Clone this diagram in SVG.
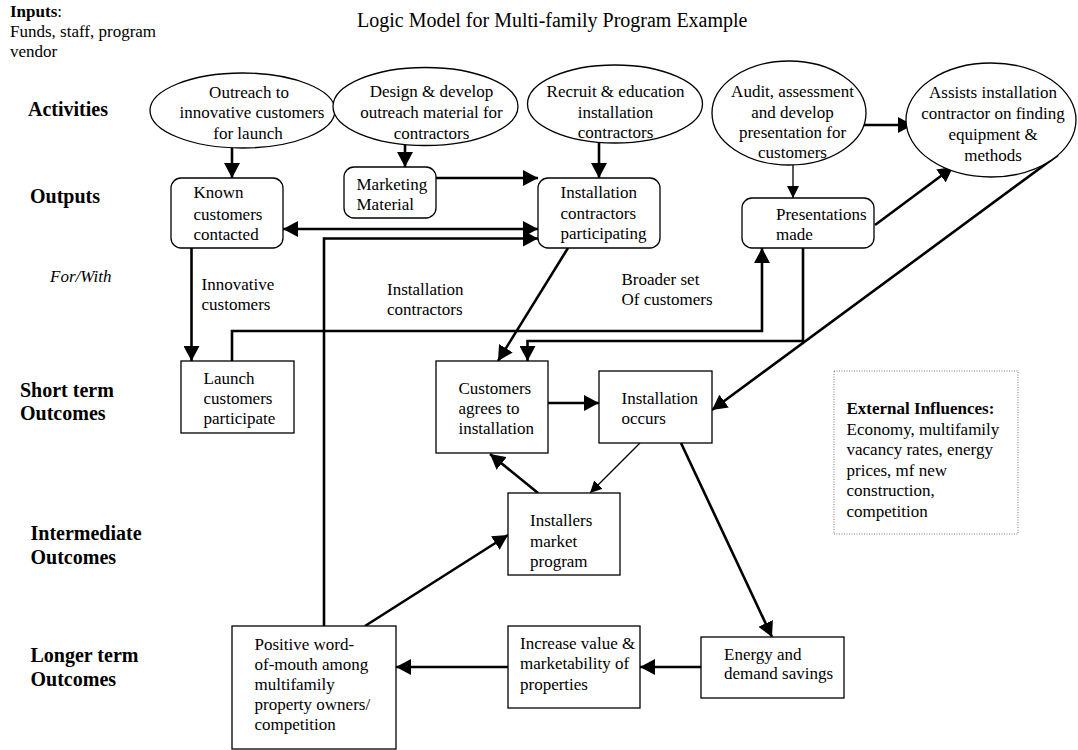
<svg xmlns="http://www.w3.org/2000/svg" width="1078" height="750" viewBox="0 0 1078 750">
<style>
text{font-family:"Liberation Serif","Times New Roman",serif;fill:#000}
.t{font-size:17px}
.c{text-anchor:middle}
.h{font-size:20px;font-weight:bold}
.ttl{font-size:20px}
.n{fill:#fff;stroke:#000;stroke-width:1.3}
.ext{fill:#fff;stroke:#777;stroke-width:1;stroke-dasharray:1 1.5}
.k{fill:none;stroke:#000;stroke-width:2.6;marker-end:url(#ah)}
.s{fill:none;stroke:#000;stroke-width:1.3;marker-end:url(#as)}
</style>
<defs>
<marker id="ah" viewBox="0 0 15 16" refX="15" refY="8" markerWidth="15" markerHeight="16" markerUnits="userSpaceOnUse" orient="auto-start-reverse"><path d="M0,0 L15,8 L0,16 z" fill="#000"/></marker>
<marker id="as" viewBox="0 0 12 12" refX="12" refY="6" markerWidth="12" markerHeight="12" markerUnits="userSpaceOnUse" orient="auto"><path d="M0,0 L12,6 L0,12 z" fill="#000"/></marker>
</defs>
<rect width="1078" height="750" fill="#fff"/>

<g id="labels">
<text class="t" x="10" y="17"><tspan font-weight="bold">Inputs</tspan>:</text>
<text class="t" x="10" y="37">Funds, staff, program</text>
<text class="t" x="10" y="56.5">vendor</text>
<text class="ttl" x="357" y="27">Logic Model for Multi-family Program Example</text>
<text class="h" x="28" y="115.5">Activities</text>
<text class="h" x="30" y="203">Outputs</text>
<text class="t" x="50" y="281.5" font-style="italic">For/With</text>
<text class="h" x="20" y="396.5">Short term</text>
<text class="h" x="20" y="420">Outcomes</text>
<text class="h" x="30.5" y="540">Intermediate</text>
<text class="h" x="30.5" y="563.5">Outcomes</text>
<text class="h" x="30.5" y="661.5">Longer term</text>
<text class="h" x="30.5" y="686">Outcomes</text>
<text class="t" x="201.5" y="290">Innovative</text>
<text class="t" x="201.5" y="310">customers</text>
<text class="t" x="387" y="295">Installation</text>
<text class="t" x="387" y="315">contractors</text>
<text class="t" x="621.5" y="285">Broader set</text>
<text class="t" x="621.5" y="304.5">Of customers</text>
</g>

<g id="connectors">
<line class="k" x1="232" y1="148" x2="232" y2="178"/>
<line class="k" x1="405" y1="145" x2="405" y2="167"/>
<line class="k" x1="599" y1="143" x2="599" y2="178"/>
<line class="s" x1="793" y1="165" x2="793" y2="198"/>
<line class="k" x1="855" y1="125" x2="913" y2="125"/>
<line class="k" x1="436" y1="178" x2="538" y2="178"/>
<line class="k" x1="283" y1="229" x2="538" y2="229" marker-start="url(#ah)"/>
<polyline class="k" points="324,626 324,238.5 538,238.5"/>
<line class="k" x1="191.5" y1="248" x2="191.5" y2="361"/>
<polyline class="k" points="232,361 232,331 762,331 762,248"/>
<polyline class="k" points="803,248 803,341 527.5,341 527.5,361"/>
<line class="k" x1="568" y1="248" x2="498" y2="361"/>
<line class="k" x1="875" y1="225" x2="953" y2="167"/>
<line class="k" x1="1058" y1="155" x2="712" y2="410"/>
<line class="k" x1="548" y1="403" x2="599" y2="403"/>
<line class="s" x1="640" y1="443" x2="590" y2="493"/>
<line class="k" x1="538" y1="493" x2="490" y2="454"/>
<line class="k" x1="681" y1="443" x2="772" y2="637"/>
<line class="k" x1="701" y1="667" x2="640" y2="667"/>
<line class="k" x1="508" y1="667" x2="396" y2="667"/>
<line class="k" x1="365" y1="626" x2="508" y2="535"/>
</g>

<g id="outreach">
<ellipse class="n" cx="242.5" cy="110.5" rx="92.5" ry="37.5"/>
<text class="t c"><tspan x="249" y="97.5">Outreach to</tspan><tspan x="252" y="118">innovative customers</tspan><tspan x="248" y="138.5">for launch</tspan></text>
</g>
<g id="design">
<ellipse class="n" cx="425.5" cy="106.5" rx="92.5" ry="39"/>
<text class="t c"><tspan x="431.5" y="97">Design &amp; develop</tspan><tspan x="431.5" y="118">outreach material for</tspan><tspan x="431.5" y="139">contractors</tspan></text>
</g>
<g id="recruit">
<ellipse class="n" cx="615" cy="104" rx="87.5" ry="39"/>
<text class="t c"><tspan x="615.5" y="97">Recruit &amp; education</tspan><tspan x="615.5" y="117.5">installation</tspan><tspan x="615.5" y="138">contractors</tspan></text>
</g>
<g id="audit">
<ellipse class="n" cx="789" cy="113" rx="77" ry="52"/>
<text class="t c"><tspan x="792.5" y="97">Audit, assessment</tspan><tspan x="792.5" y="117.5">and develop</tspan><tspan x="792.5" y="138">presentation for</tspan><tspan x="792.5" y="157.5">customers</tspan></text>
</g>
<g id="assists">
<ellipse class="n" cx="991" cy="120" rx="85" ry="57"/>
<text class="t c"><tspan x="993" y="98">Assists installation</tspan><tspan x="993" y="119">contractor on finding</tspan><tspan x="993" y="140">equipment &amp;</tspan><tspan x="993" y="160.5">methods</tspan></text>
</g>

<g id="known">
<rect class="n" x="171" y="178" width="112" height="70" rx="10"/>
<text class="t"><tspan x="193.5" y="198">Known</tspan><tspan x="193.5" y="219.5">customers</tspan><tspan x="193.5" y="240">contacted</tspan></text>
</g>
<g id="marketing">
<rect class="n" x="344" y="167" width="92" height="51" rx="10"/>
<text class="t"><tspan x="356.5" y="190">Marketing</tspan><tspan x="356.5" y="210">Material</tspan></text>
</g>
<g id="installers-participating">
<rect class="n" x="538" y="178" width="122" height="70" rx="10"/>
<text class="t"><tspan x="560.5" y="198">Installation</tspan><tspan x="560.5" y="218.5">contractors</tspan><tspan x="560.5" y="239">participating</tspan></text>
</g>
<g id="presentations">
<rect class="n" x="742" y="198" width="132" height="50" rx="10"/>
<text class="t"><tspan x="776" y="220">Presentations</tspan><tspan x="776" y="240">made</tspan></text>
</g>

<g id="launch">
<rect class="n" x="181" y="361" width="113" height="72"/>
<text class="t"><tspan x="203.5" y="383.5">Launch</tspan><tspan x="203.5" y="403.5">customers</tspan><tspan x="203.5" y="423.5">participate</tspan></text>
</g>
<g id="customers-agree">
<rect class="n" x="436" y="361" width="112" height="92"/>
<text class="t"><tspan x="458.5" y="394">Customers</tspan><tspan x="458.5" y="414">agrees to</tspan><tspan x="458.5" y="434">installation</tspan></text>
</g>
<g id="installation-occurs">
<rect class="n" x="599" y="371" width="113" height="72"/>
<text class="t"><tspan x="621.5" y="404">Installation</tspan><tspan x="621.5" y="423.5">occurs</tspan></text>
</g>
<g id="external">
<rect class="ext" x="834" y="371" width="184" height="163"/>
<text class="t"><tspan x="846.5" y="414" font-weight="bold">External Influences:</tspan><tspan x="846.5" y="434.5">Economy, multifamily</tspan><tspan x="846.5" y="455">vacancy rates, energy</tspan><tspan x="846.5" y="475.5">prices, mf new</tspan><tspan x="846.5" y="496">construction,</tspan><tspan x="846.5" y="516.5">competition</tspan></text>
</g>
<g id="installers-market">
<rect class="n" x="508" y="493" width="112" height="82"/>
<text class="t"><tspan x="530" y="526">Installers</tspan><tspan x="530" y="546.5">market</tspan><tspan x="530" y="566.5">program</tspan></text>
</g>
<g id="energy">
<rect class="n" x="701" y="637" width="143" height="61"/>
<text class="t"><tspan x="724" y="659.5">Energy and</tspan><tspan x="724" y="679">demand savings</tspan></text>
</g>
<g id="increase">
<rect class="n" x="508" y="626" width="132" height="82"/>
<text class="t"><tspan x="520" y="649">Increase value &amp;</tspan><tspan x="520" y="669">marketability of</tspan><tspan x="520" y="689.5">properties</tspan></text>
</g>
<g id="word-of-mouth">
<rect class="n" x="232" y="626" width="164" height="123"/>
<text class="t"><tspan x="254.5" y="649.5">Positive word-</tspan><tspan x="254.5" y="669.5">of-mouth among</tspan><tspan x="254.5" y="690">multifamily</tspan><tspan x="254.5" y="710">property owners/</tspan><tspan x="254.5" y="730">competition</tspan></text>
</g>
</svg>
